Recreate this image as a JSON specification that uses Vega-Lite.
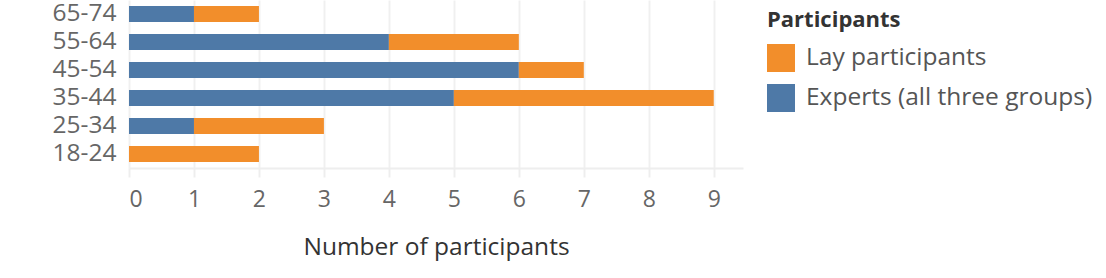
{
  "$schema": "https://vega.github.io/schema/vega-lite/v6.json",
  "autosize": {"type": "none"},
  "padding": {"left": 129, "top": 0, "right": 363, "bottom": 110},
  "width": 614,
  "height": 168,
  "config": {
    "font": "Open Sans",
    "view": {"stroke": null}
  },
  "data": {
    "values": [
      {"age": "65-74", "group": "Experts (all three groups)", "count": 1},
      {"age": "65-74", "group": "Lay participants", "count": 1},
      {"age": "55-64", "group": "Experts (all three groups)", "count": 4},
      {"age": "55-64", "group": "Lay participants", "count": 2},
      {"age": "45-54", "group": "Experts (all three groups)", "count": 6},
      {"age": "45-54", "group": "Lay participants", "count": 1},
      {"age": "35-44", "group": "Experts (all three groups)", "count": 5},
      {"age": "35-44", "group": "Lay participants", "count": 4},
      {"age": "25-34", "group": "Experts (all three groups)", "count": 1},
      {"age": "25-34", "group": "Lay participants", "count": 2},
      {"age": "18-24", "group": "Experts (all three groups)", "count": 0},
      {"age": "18-24", "group": "Lay participants", "count": 2}
    ]
  },
  "mark": {"type": "bar"},
  "encoding": {
    "y": {
      "field": "age",
      "type": "nominal",
      "sort": ["65-74", "55-64", "45-54", "35-44", "25-34", "18-24"],
      "scale": {"paddingInner": 0.43, "paddingOuter": 0.215},
      "axis": {
        "title": null,
        "domain": false,
        "ticks": false,
        "grid": false,
        "labelFontSize": 24.5,
        "labelColor": "#666666",
        "labelPadding": 13
      }
    },
    "x": {
      "field": "count",
      "type": "quantitative",
      "stack": "zero",
      "scale": {"domain": [0, 9.45], "nice": false},
      "axis": {
        "values": [0, 1, 2, 3, 4, 5, 6, 7, 8, 9],
        "title": "Number of participants",
        "titleFontSize": 24.5,
        "titleFontWeight": 500,
        "titleColor": "#333333",
        "titlePadding": 24,
        "labelFontSize": 23,
        "labelColor": "#666666",
        "labelPadding": 11,
        "labelFlush": true,
        "domainColor": "#eeeeee",
        "domainWidth": 2,
        "tickColor": "#eeeeee",
        "tickSize": 9,
        "tickWidth": 2,
        "gridColor": "#f0f0f0",
        "gridWidth": 2
      }
    },
    "color": {
      "field": "group",
      "type": "nominal",
      "scale": {
        "domain": ["Lay participants", "Experts (all three groups)"],
        "range": ["#f28e2b", "#4e79a7"]
      },
      "legend": {
        "title": "Participants",
        "orient": "none",
        "legendX": 638,
        "legendY": 10,
        "padding": 0,
        "titleFontSize": 22,
        "titleFontWeight": "bold",
        "titleColor": "#333333",
        "titlePadding": 12,
        "labelFontSize": 24.5,
        "labelColor": "#555555",
        "labelOffset": 11,
        "labelLimit": 400,
        "symbolType": "square",
        "symbolSize": 784,
        "symbolStrokeWidth": 0,
        "symbolOpacity": 1,
        "rowPadding": 12
      }
    },
    "order": {"field": "group", "sort": "ascending"}
  }
}
